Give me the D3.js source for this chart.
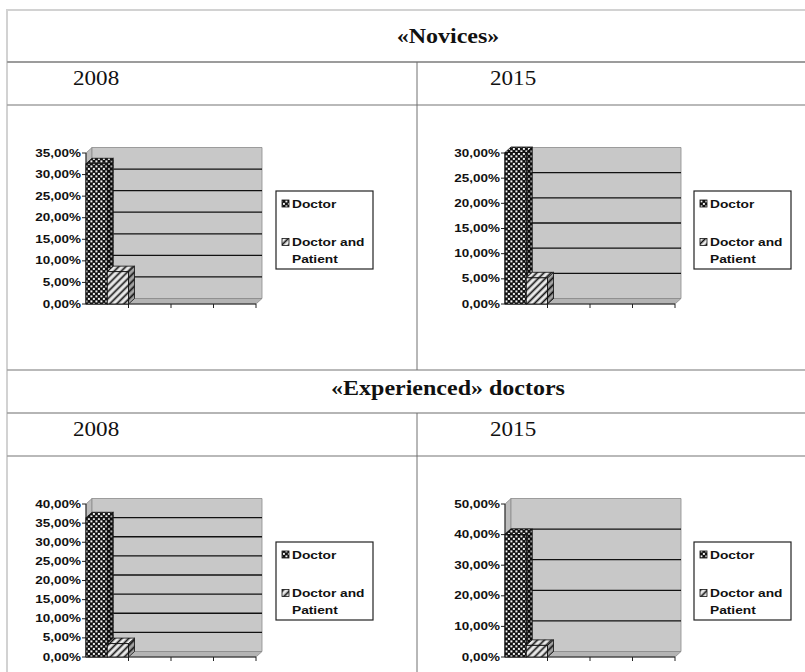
<!DOCTYPE html>
<html>
<head>
<meta charset="utf-8">
<script src="https://d3js.org/d3.v7.min.js"></script>
<style>
  body { margin: 0; background: #fff; }
  svg { display: block; }
</style>
</head>
<body>
<div id="viz"></div>
<script>
var width = 805;
var height = 672;

// data (percent)
var groups = ["«Novices»", "«Experienced» doctors"];
var years = ["2008", "2015"];
var seriesNames = ["Doctor", "Doctor and Patient"];
var categories = ["1", "2", "3", "4"];   // 4 slots on the x axis, only the first one is used
var doctorValues = [32.5, 30.1, 36.4, 40.0];        // novices 2008, novices 2015, experienced 2008, experienced 2015
var doctorPatientValues = [7.5, 5.2, 3.5, 3.8];
var axisMax = [35, 30, 40, 50];
var axisStep = [5, 5, 5, 10];

var svg = d3.select("#viz").append("svg")
    .attr("width", width)
    .attr("height", height);

var defs = svg.append("defs");

var chk = defs.append("pattern")
    .attr("id", "chk")
    .attr("patternUnits", "userSpaceOnUse")
    .attr("width", 5)
    .attr("height", 5);
chk.append("rect").attr("width", 5).attr("height", 5).attr("fill", "#111");
chk.append("rect").attr("x", 0.4).attr("y", 0.4).attr("width", 2).attr("height", 2).attr("fill", "#f4f4f4");
chk.append("rect").attr("x", 2.9).attr("y", 2.9).attr("width", 2).attr("height", 2).attr("fill", "#f4f4f4");

var hatch = defs.append("pattern")
    .attr("id", "hatch")
    .attr("patternUnits", "userSpaceOnUse")
    .attr("width", 5)
    .attr("height", 5)
    .attr("patternTransform", "rotate(45)");
hatch.append("rect").attr("width", 5).attr("height", 5).attr("fill", "#ececec");
hatch.append("line").attr("x1", 2.5).attr("x2", 2.5).attr("y1", 0).attr("y2", 5)
    .attr("stroke", "#111").attr("stroke-width", 1.7);

var fills = ["url(#chk)", "url(#hatch)"];

// ---- table lines ----
function hline(y, x1, x2, col, w) {
  svg.append("line").attr("x1", x1).attr("x2", x2).attr("y1", y).attr("y2", y)
      .attr("stroke", col).attr("stroke-width", w);
}
function vline(x, y1, y2, col, w) {
  svg.append("line").attr("x1", x).attr("x2", x).attr("y1", y1).attr("y2", y2)
      .attr("stroke", col).attr("stroke-width", w);
}

hline(10, 6, width, "#d2d2d2", 2);
vline(7, 9, height, "#d2d2d2", 2);
hline(62, 7, width, "#9c9c9c", 2);
hline(105, 7, width, "#a2a2a2", 1.5);
hline(370, 7, width, "#a2a2a2", 1.5);
hline(413, 7, width, "#9c9c9c", 1.5);
hline(456, 7, width, "#a2a2a2", 1.5);
vline(417, 62, 370, "#707070", 1);
vline(417, 413, height, "#707070", 1);

// stretched text helper (the scan is wider than the native fonts)
function sText(x, y, txt, sx, size, weight, family, anchor) {
  return svg.append("g")
      .attr("transform", "translate(" + x + "," + y + ") scale(" + sx + ",1)")
    .append("text")
      .attr("text-anchor", anchor || "start")
      .style("font-family", family)
      .style("font-size", size + "px")
      .style("font-weight", weight)
      .attr("fill", "#111")
      .text(txt);
}

var serif = "'Liberation Serif', 'Times New Roman', serif";
var sans = "'Liberation Sans', Arial, sans-serif";

var titleY = [43, 395];
var yearY = [85, 436];
var yearX = [73, 490];
groups.forEach(function(g, i) {
  sText(448, titleY[i], g, 1.2, 20, "bold", serif, "middle");
  years.forEach(function(yr, j) {
    sText(yearX[j], yearY[i], yr, 1.1, 21, "normal", serif, "start");
  });
});

// ---- charts ----
var fmtLocale = d3.formatLocale({ decimal: ",", thousands: ".", grouping: [3], currency: ["", ""] });
var pct = fmtLocale.format(".2f");

var axisX = [86, 505];
var plotW = 170;
var rowPlot = [{ top: 153, bottom: 304 }, { top: 504, bottom: 657 }];
var legendX = [276, 694];
var legendY = [191, 542];
var dx = 6, dy = -5.5;

function poly(g, pts, fill, stroke, sw) {
  return g.append("polygon")
      .attr("points", pts.map(function(p) { return p.join(","); }).join(" "))
      .attr("fill", fill)
      .attr("stroke", stroke || "none")
      .attr("stroke-width", sw || 0);
}

for (var r = 0; r < 2; r++) {
  for (var c = 0; c < 2; c++) {
    var k = r * 2 + c;
    var g = svg.append("g");
    var x0 = axisX[c], x1 = axisX[c] + plotW;
    var y = d3.scaleLinear().domain([0, axisMax[k]]).range([rowPlot[r].bottom, rowPlot[r].top]);
    var x = d3.scaleBand().domain(categories).range([x0, x1]).paddingInner(0);
    var xs = d3.scaleBand().domain(seriesNames).range([0, x.bandwidth()]);
    var ticks = d3.range(0, axisMax[k] + axisStep[k] / 2, axisStep[k]);
    var yb = y(0), yt = y(axisMax[k]);

    // side wall, back wall, floor
    poly(g, [[x0, yb], [x0, yt], [x0 + dx, yt + dy], [x0 + dx, yb + dy]], "#bdbdbd", "#8a8a8a", 0.8);
    poly(g, [[x0 + dx, yb + dy], [x0 + dx, yt + dy], [x1 + dx, yt + dy], [x1 + dx, yb + dy]], "#c8c8c8", "#8a8a8a", 0.8);
    poly(g, [[x0, yb], [x1, yb], [x1 + dx, yb + dy], [x0 + dx, yb + dy]], "#b4b4b4", "#8a8a8a", 0.8);

    // gridlines on walls
    ticks.slice(1, -1).forEach(function(t) {
      g.append("polyline")
          .attr("points", [[x0, y(t)], [x0 + dx, y(t) + dy], [x1 + dx, y(t) + dy]].map(function(p) { return p.join(","); }).join(" "))
          .attr("fill", "none")
          .attr("stroke", "#111")
          .attr("stroke-width", 1.3);
    });

    // axes
    g.append("line").attr("x1", x0).attr("x2", x0).attr("y1", yt).attr("y2", yb)
        .attr("stroke", "#222").attr("stroke-width", 1);
    g.append("line").attr("x1", x0).attr("x2", x1).attr("y1", yb).attr("y2", yb)
        .attr("stroke", "#222").attr("stroke-width", 1);
    ticks.forEach(function(t) {
      g.append("line").attr("x1", x0 - 4).attr("x2", x0).attr("y1", y(t)).attr("y2", y(t))
          .attr("stroke", "#222").attr("stroke-width", 1);
      sText(x0 - 5, y(t) + 3.5, pct(t) + "%", 1.35, 10, "bold", sans, "end");
    });
    categories.forEach(function(cat) {
      var bx = x(cat) + x.bandwidth();
      g.append("line").attr("x1", bx).attr("x2", bx).attr("y1", yb).attr("y2", yb + 4)
          .attr("stroke", "#222").attr("stroke-width", 1);
    });

    // 3d bars, first category only
    [doctorValues[k], doctorPatientValues[k]].forEach(function(v, s) {
      var bx0 = x(categories[0]) + xs(seriesNames[s]);
      var bx1 = bx0 + xs.bandwidth();
      var by = y(v);
      poly(g, [[bx1, by], [bx1 + dx, by + dy], [bx1 + dx, yb + dy], [bx1, yb]], fills[s], "#111", 0.8);
      poly(g, [[bx1, by], [bx1 + dx, by + dy], [bx1 + dx, yb + dy], [bx1, yb]], "rgba(0,0,0,0.3)");
      poly(g, [[bx0, by], [bx0 + dx, by + dy], [bx1 + dx, by + dy], [bx1, by]], fills[s], "#111", 0.8);
      g.append("rect")
          .attr("x", bx0).attr("y", by)
          .attr("width", bx1 - bx0).attr("height", yb - by)
          .attr("fill", fills[s])
          .attr("stroke", "#111")
          .attr("stroke-width", 0.9);
    });

    // legend
    var lx = legendX[c], ly = legendY[r];
    g.append("rect").attr("x", lx).attr("y", ly).attr("width", 97).attr("height", 78)
        .attr("fill", "#fff").attr("stroke", "#222").attr("stroke-width", 1.2);
    var lines = [["Doctor"], ["Doctor and", "Patient"]];
    var lineY = [16.5, 55];
    seriesNames.forEach(function(name, s) {
      g.append("rect").attr("x", lx + 6).attr("y", ly + lineY[s] - 7.5)
          .attr("width", 7).attr("height", 7)
          .attr("fill", fills[s]).attr("stroke", "#111").attr("stroke-width", 0.8);
      lines[s].forEach(function(t, li) {
        sText(lx + 16, ly + lineY[s] + li * 16.5, t, 1.25, 11, "bold", sans, "start");
      });
    });
  }
}
</script>
</body>
</html>
